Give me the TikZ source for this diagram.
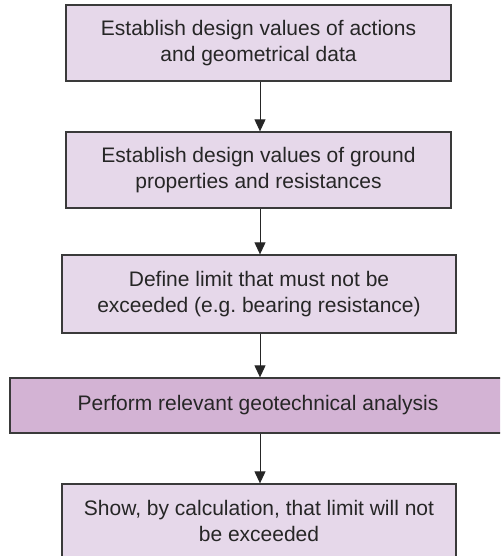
\documentclass[tikz,border=0pt]{standalone}
\usepackage{fontspec}
\setmainfont{Liberation Sans}
\usetikzlibrary{arrows.meta}
\definecolor{boxfill}{HTML}{E6D8EA}
\definecolor{darkfill}{HTML}{D3B3D4}
\definecolor{edge}{HTML}{3A3A3A}
\definecolor{ink}{HTML}{262626}
\frenchspacing
\begin{document}
\begin{tikzpicture}[x=1pt,y=1pt,
  stepbox/.style={draw=edge, line width=1.3pt, fill=boxfill, align=center,
    text=ink, inner sep=0pt, font=\fontsize{21}{26}\selectfont},
  flow/.style={draw=ink, line width=1pt, -{Triangle[length=12pt,width=11pt]}}]
\clip (0,0) rectangle (500,-556);
\useasboundingbox (0,0) rectangle (500,-556);
\node[stepbox, minimum width=385pt, minimum height=76pt] (b1) at (258.5,-43)
  {Establish design values of actions\\and geometrical data};
\node[stepbox, minimum width=385pt, minimum height=76pt] (b2) at (258.5,-170)
  {Establish design values of ground\\properties and resistances};
\node[stepbox, minimum width=394pt, minimum height=78pt] (b3) at (259,-294)
  {Define limit that must not be\\exceeded (e.g.\ bearing resistance)};
\node[stepbox, fill=darkfill, minimum width=496pt, minimum height=55pt] (b4) at (258,-405.5)
  {Perform relevant geotechnical analysis};
\node[stepbox, minimum width=394pt, minimum height=74pt] (b5) at (259,-521)
  {Show, by calculation, that limit will not\\be exceeded};
\draw[flow] (b1.south -| 260,0) -- (b2.north -| 260,0);
\draw[flow] (b2.south -| 260,0) -- (b3.north -| 260,0);
\draw[flow] (b3.south -| 260,0) -- (b4.north -| 260,0);
\draw[flow] (b4.south -| 260,0) -- (b5.north -| 260,0);
\end{tikzpicture}
\end{document}
